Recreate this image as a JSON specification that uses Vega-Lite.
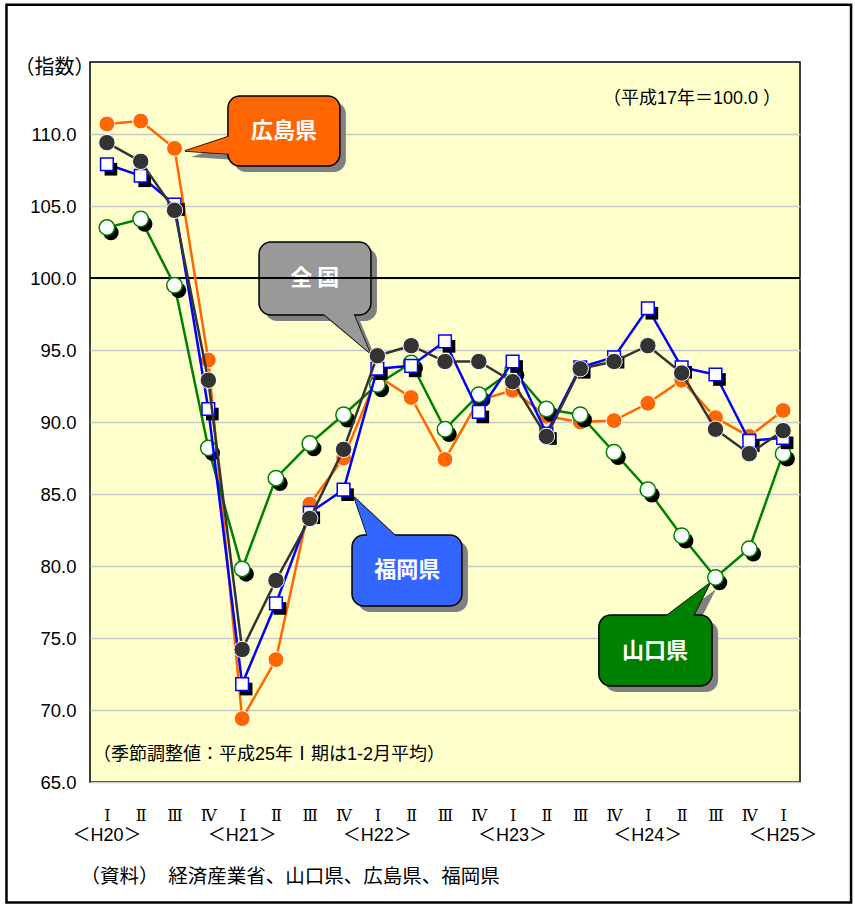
{
  "$schema": "https://vega.github.io/schema/vega-lite/v6.json",
  "width": 710,
  "height": 720,
  "autosize": {"type": "none"},
  "padding": {"left": 90, "top": 62, "right": 55, "bottom": 123},
  "background": "white",
  "config": {
    "view": {"stroke": "black", "strokeWidth": 1.5, "fill": "#FFFFCC"},
    "font": "Liberation Sans, Noto Sans CJK JP",
    "axis": {"labelOverlap": false, "labelFlush": false}
  },
  "datasets": {
    "series": [
      {"q":0,"period":"H20 Ⅰ","national":109.4,"hiroshima":110.7,"yamaguchi":103.5,"fukuoka":107.9},
      {"q":1,"period":"H20 Ⅱ","national":108.1,"hiroshima":110.9,"yamaguchi":104.1,"fukuoka":107.1},
      {"q":2,"period":"H20 Ⅲ","national":104.7,"hiroshima":109.0,"yamaguchi":99.5,"fukuoka":105.1},
      {"q":3,"period":"H20 Ⅳ","national":92.9,"hiroshima":94.3,"yamaguchi":88.2,"fukuoka":90.9},
      {"q":4,"period":"H21 Ⅰ","national":74.2,"hiroshima":69.4,"yamaguchi":79.8,"fukuoka":71.8},
      {"q":5,"period":"H21 Ⅱ","national":79.0,"hiroshima":73.5,"yamaguchi":86.1,"fukuoka":77.4},
      {"q":6,"period":"H21 Ⅲ","national":83.3,"hiroshima":84.3,"yamaguchi":88.5,"fukuoka":83.7},
      {"q":7,"period":"H21 Ⅳ","national":88.1,"hiroshima":87.5,"yamaguchi":90.5,"fukuoka":85.3},
      {"q":8,"period":"H22 Ⅰ","national":94.6,"hiroshima":93.2,"yamaguchi":92.6,"fukuoka":93.7},
      {"q":9,"period":"H22 Ⅱ","national":95.3,"hiroshima":91.7,"yamaguchi":94.1,"fukuoka":93.9},
      {"q":10,"period":"H22 Ⅲ","national":94.2,"hiroshima":87.4,"yamaguchi":89.5,"fukuoka":95.6},
      {"q":11,"period":"H22 Ⅳ","national":94.2,"hiroshima":91.5,"yamaguchi":91.9,"fukuoka":90.7},
      {"q":12,"period":"H23 Ⅰ","national":92.8,"hiroshima":92.2,"yamaguchi":93.6,"fukuoka":94.2},
      {"q":13,"period":"H23 Ⅱ","national":89.0,"hiroshima":90.4,"yamaguchi":90.9,"fukuoka":89.2},
      {"q":14,"period":"H23 Ⅲ","national":93.7,"hiroshima":90.0,"yamaguchi":90.5,"fukuoka":93.8},
      {"q":15,"period":"H23 Ⅳ","national":94.2,"hiroshima":90.1,"yamaguchi":87.9,"fukuoka":94.5},
      {"q":16,"period":"H24 Ⅰ","national":95.3,"hiroshima":91.3,"yamaguchi":85.3,"fukuoka":97.9},
      {"q":17,"period":"H24 Ⅱ","national":93.4,"hiroshima":92.9,"yamaguchi":82.1,"fukuoka":93.8},
      {"q":18,"period":"H24 Ⅲ","national":89.5,"hiroshima":90.3,"yamaguchi":79.2,"fukuoka":93.3},
      {"q":19,"period":"H24 Ⅳ","national":87.8,"hiroshima":89.0,"yamaguchi":81.2,"fukuoka":88.7},
      {"q":20,"period":"H25 Ⅰ","national":89.4,"hiroshima":90.8,"yamaguchi":87.8,"fukuoka":88.9}
    ],
    "years": [
      {"q":0,"label":"＜H20＞"},
      {"q":4,"label":"＜H21＞"},
      {"q":8,"label":"＜H22＞"},
      {"q":12,"label":"＜H23＞"},
      {"q":16,"label":"＜H24＞"},
      {"q":20,"label":"＜H25＞"}
    ],
    "callouts": [
      {"name":"広島県","label":"広島県","x":3.58,"x2":6.89,"y":112.64,"y2":107.78,"tx":5.24,"ty":110.21},
      {"name":"全国","label":"全 国","x":4.5,"x2":7.81,"y":102.5,"y2":97.43,"tx":6.15,"ty":99.97},
      {"name":"福岡県","label":"福岡県","x":7.25,"x2":10.5,"y":82.15,"y2":77.22,"tx":8.88,"ty":79.69},
      {"name":"山口県","label":"山口県","x":14.55,"x2":17.9,"y":76.6,"y2":71.67,"tx":16.21,"ty":74.13}
    ],
    "pointers": [
      {"name":"広島県","y":109.86,"x":3.65,"x2":3.65},
      {"name":"広島県","y":108.82,"x":2.31,"x2":3.65},
      {"name":"広島県","y":108.61,"x":3.65,"x2":3.65},
      {"name":"全国","y":97.6,"x":6.36,"x2":7.28},
      {"name":"全国","y":94.79,"x":7.78,"x2":7.78},
      {"name":"福岡県","y":84.79,"x":7.31,"x2":7.31},
      {"name":"福岡県","y":82.0,"x":7.72,"x2":8.58},
      {"name":"山口県","y":78.82,"x":17.84,"x2":17.84},
      {"name":"山口県","y":76.45,"x":16.5,"x2":17.33}
    ],
    "topnote": [{"text":"（平成17年＝100.0 ）","x":19.94,"y":112.43}],
    "bottomnote": [{"text":"（季節調整値：平成25年Ⅰ期は1-2月平均）","x":-0.41,"y":66.88}],
    "frame": [{"x":-2.97,"x2":22.01,"y":118.98,"y2":56.63}]
  },
  "layer": [
    {
      "data": {"name": "callouts"},
      "mark": {"type": "rect", "color": "#808080", "cornerRadius": 12, "xOffset": 6, "x2Offset": 6, "yOffset": 6, "y2Offset": 6},
      "encoding": {
        "x": {"field": "x", "type": "quantitative",
          "scale": {"domain": [-0.5, 20.5], "nice": false, "zero": false},
          "axis": {
            "values": [0,1,2,3,4,5,6,7,8,9,10,11,12,13,14,15,16,17,18,19,20],
            "tickCount": 40,
            "labelExpr": "['Ⅰ','Ⅱ','Ⅲ','Ⅳ'][datum.value % 4]",
            "labelFont": "DejaVu Serif, Noto Sans CJK JP", "labelFontSize": 16,
            "labelPadding": 25, "labelOverlap": false, "labelFlush": false, "labelColor": "black",
            "ticks": false, "domain": false, "grid": false,
            "title": "（資料）　経済産業省、山口県、広島県、福岡県",
            "titleFont": "Noto Sans CJK JP", "titleFontSize": 19.5, "titleFontWeight": "normal", "titleColor": "black",
            "titleAnchor": "start", "titleAlign": "left", "titleX": -10, "titleY": 94, "titleBaseline": "middle"
          }
        },
        "x2": {"field": "x2"},
        "y": {"field": "y", "type": "quantitative",
          "scale": {"domain": [65, 115], "nice": false, "zero": false},
          "axis": {
            "values": [65,70,75,80,85,90,95,100,105,110], "format": ".1f", "tickCount": 20,
            "labelFont": "Liberation Sans", "labelFontSize": 18.5, "labelColor": "black", "labelPadding": 14,
            "ticks": false, "domain": false, "grid": true, "gridColor": "#C8C8C8", "gridWidth": 1.5,
            "title": "（指数）", "titleAngle": 0, "titleX": -36, "titleY": 5,
            "titleAlign": "center", "titleBaseline": "middle",
            "titleFont": "Noto Sans CJK JP", "titleFontSize": 20, "titleFontWeight": "normal", "titleColor": "black"
          }
        },
        "y2": {"field": "y2"}
      }
    },
    {
      "data": {"name": "pointers"},
      "mark": {"type": "area", "orient": "horizontal", "color": "#808080", "xOffset": 6, "x2Offset": 6, "yOffset": 6},
      "encoding": {
        "y": {"field": "y", "type": "quantitative"},
        "x": {"field": "x", "type": "quantitative"},
        "x2": {"field": "x2"},
        "detail": {"field": "name"}
      }
    },
    {
      "data": {"name": "pointers"},
      "mark": {"type": "area", "orient": "horizontal", "stroke": "black", "strokeWidth": 1.5, "opacity": 1},
      "encoding": {
        "y": {"field": "y", "type": "quantitative"},
        "x": {"field": "x", "type": "quantitative"},
        "x2": {"field": "x2"},
        "color": {"field": "name", "type": "nominal",
          "scale": {"domain": ["広島県","全国","福岡県","山口県"], "range": ["#FF6600","#999999","#3366FF","#008000"]},
          "legend": null}
      }
    },
    {
      "data": {"name": "callouts"},
      "mark": {"type": "rect", "cornerRadius": 12, "stroke": "black", "strokeWidth": 1.5, "opacity": 1},
      "encoding": {
        "x": {"field": "x", "type": "quantitative"},
        "x2": {"field": "x2"},
        "y": {"field": "y", "type": "quantitative"},
        "y2": {"field": "y2"},
        "color": {"field": "name", "type": "nominal", "legend": null}
      }
    },
    {
      "data": {"name": "pointers"},
      "mark": {"type": "area", "orient": "horizontal", "opacity": 1},
      "encoding": {
        "y": {"field": "y", "type": "quantitative"},
        "x": {"field": "x", "type": "quantitative"},
        "x2": {"field": "x2"},
        "color": {"field": "name", "type": "nominal", "legend": null}
      }
    },
    {
      "data": {"name": "callouts"},
      "mark": {"type": "text", "color": "white", "font": "Noto Sans CJK JP", "fontSize": 22, "fontWeight": "bold", "align": "center", "baseline": "middle"},
      "encoding": {
        "x": {"field": "tx", "type": "quantitative"},
        "y": {"field": "ty", "type": "quantitative"},
        "text": {"field": "label"}
      }
    },
    {
      "data": {"values": [{"base": 100}]},
      "mark": {"type": "rule", "color": "black", "strokeWidth": 2},
      "encoding": {"y": {"field": "base", "type": "quantitative"}}
    },
    {
      "data": {"name": "series"},
      "mark": {"type": "line", "color": "#FF6600", "strokeWidth": 2.5},
      "encoding": {"x": {"field": "q", "type": "quantitative"}, "y": {"field": "hiroshima", "type": "quantitative"}}
    },
    {
      "data": {"name": "series"},
      "mark": {"type": "point", "shape": "circle", "filled": true, "fill": "#FF6600", "stroke": "white", "strokeWidth": 1, "size": 250, "opacity": 1},
      "encoding": {"x": {"field": "q", "type": "quantitative"}, "y": {"field": "hiroshima", "type": "quantitative"}}
    },
    {
      "data": {"name": "series"},
      "mark": {"type": "line", "color": "#008000", "strokeWidth": 2.5},
      "encoding": {"x": {"field": "q", "type": "quantitative"}, "y": {"field": "yamaguchi", "type": "quantitative"}}
    },
    {
      "data": {"name": "series"},
      "mark": {"type": "point", "shape": "circle", "filled": true, "fill": "black", "strokeWidth": 0, "size": 240, "opacity": 1, "xOffset": 4, "yOffset": 5},
      "encoding": {"x": {"field": "q", "type": "quantitative"}, "y": {"field": "yamaguchi", "type": "quantitative"}}
    },
    {
      "data": {"name": "series"},
      "mark": {"type": "point", "shape": "circle", "filled": true, "fill": "white", "stroke": "#008000", "strokeWidth": 1.5, "size": 240, "opacity": 1},
      "encoding": {"x": {"field": "q", "type": "quantitative"}, "y": {"field": "yamaguchi", "type": "quantitative"}}
    },
    {
      "data": {"name": "series"},
      "mark": {"type": "line", "color": "#0000FF", "strokeWidth": 2.5},
      "encoding": {"x": {"field": "q", "type": "quantitative"}, "y": {"field": "fukuoka", "type": "quantitative"}}
    },
    {
      "data": {"name": "series"},
      "mark": {"type": "point", "shape": "square", "filled": true, "fill": "black", "strokeWidth": 0, "size": 160, "opacity": 1, "xOffset": 4, "yOffset": 5},
      "encoding": {"x": {"field": "q", "type": "quantitative"}, "y": {"field": "fukuoka", "type": "quantitative"}}
    },
    {
      "data": {"name": "series"},
      "mark": {"type": "point", "shape": "square", "filled": true, "fill": "white", "stroke": "#0000FF", "strokeWidth": 1.5, "size": 160, "opacity": 1},
      "encoding": {"x": {"field": "q", "type": "quantitative"}, "y": {"field": "fukuoka", "type": "quantitative"}}
    },
    {
      "data": {"name": "series"},
      "mark": {"type": "line", "color": "#333333", "strokeWidth": 2.5},
      "encoding": {"x": {"field": "q", "type": "quantitative"}, "y": {"field": "national", "type": "quantitative"}}
    },
    {
      "data": {"name": "series"},
      "mark": {"type": "point", "shape": "circle", "filled": true, "fill": "#333333", "stroke": "white", "strokeWidth": 1, "size": 270, "opacity": 1},
      "encoding": {"x": {"field": "q", "type": "quantitative"}, "y": {"field": "national", "type": "quantitative"}}
    },
    {
      "data": {"name": "topnote"},
      "mark": {"type": "text", "fontSize": 18, "align": "right", "baseline": "middle", "color": "black"},
      "encoding": {"x": {"field": "x", "type": "quantitative"}, "y": {"field": "y", "type": "quantitative"}, "text": {"field": "text"}}
    },
    {
      "data": {"name": "bottomnote"},
      "mark": {"type": "text", "fontSize": 18, "align": "left", "baseline": "middle", "color": "black"},
      "encoding": {"x": {"field": "x", "type": "quantitative"}, "y": {"field": "y", "type": "quantitative"}, "text": {"field": "text"}}
    },
    {
      "data": {"name": "years"},
      "mark": {"type": "text", "fontSize": 18, "align": "center", "baseline": "middle", "color": "black"},
      "encoding": {"x": {"field": "q", "type": "quantitative"}, "y": {"datum": 61.25}, "text": {"field": "label"}}
    },
    {
      "data": {"name": "frame"},
      "mark": {"type": "rect", "filled": false, "color": "black", "strokeWidth": 2.5},
      "encoding": {
        "x": {"field": "x", "type": "quantitative"},
        "x2": {"field": "x2"},
        "y": {"field": "y", "type": "quantitative"},
        "y2": {"field": "y2"}
      }
    }
  ]
}
